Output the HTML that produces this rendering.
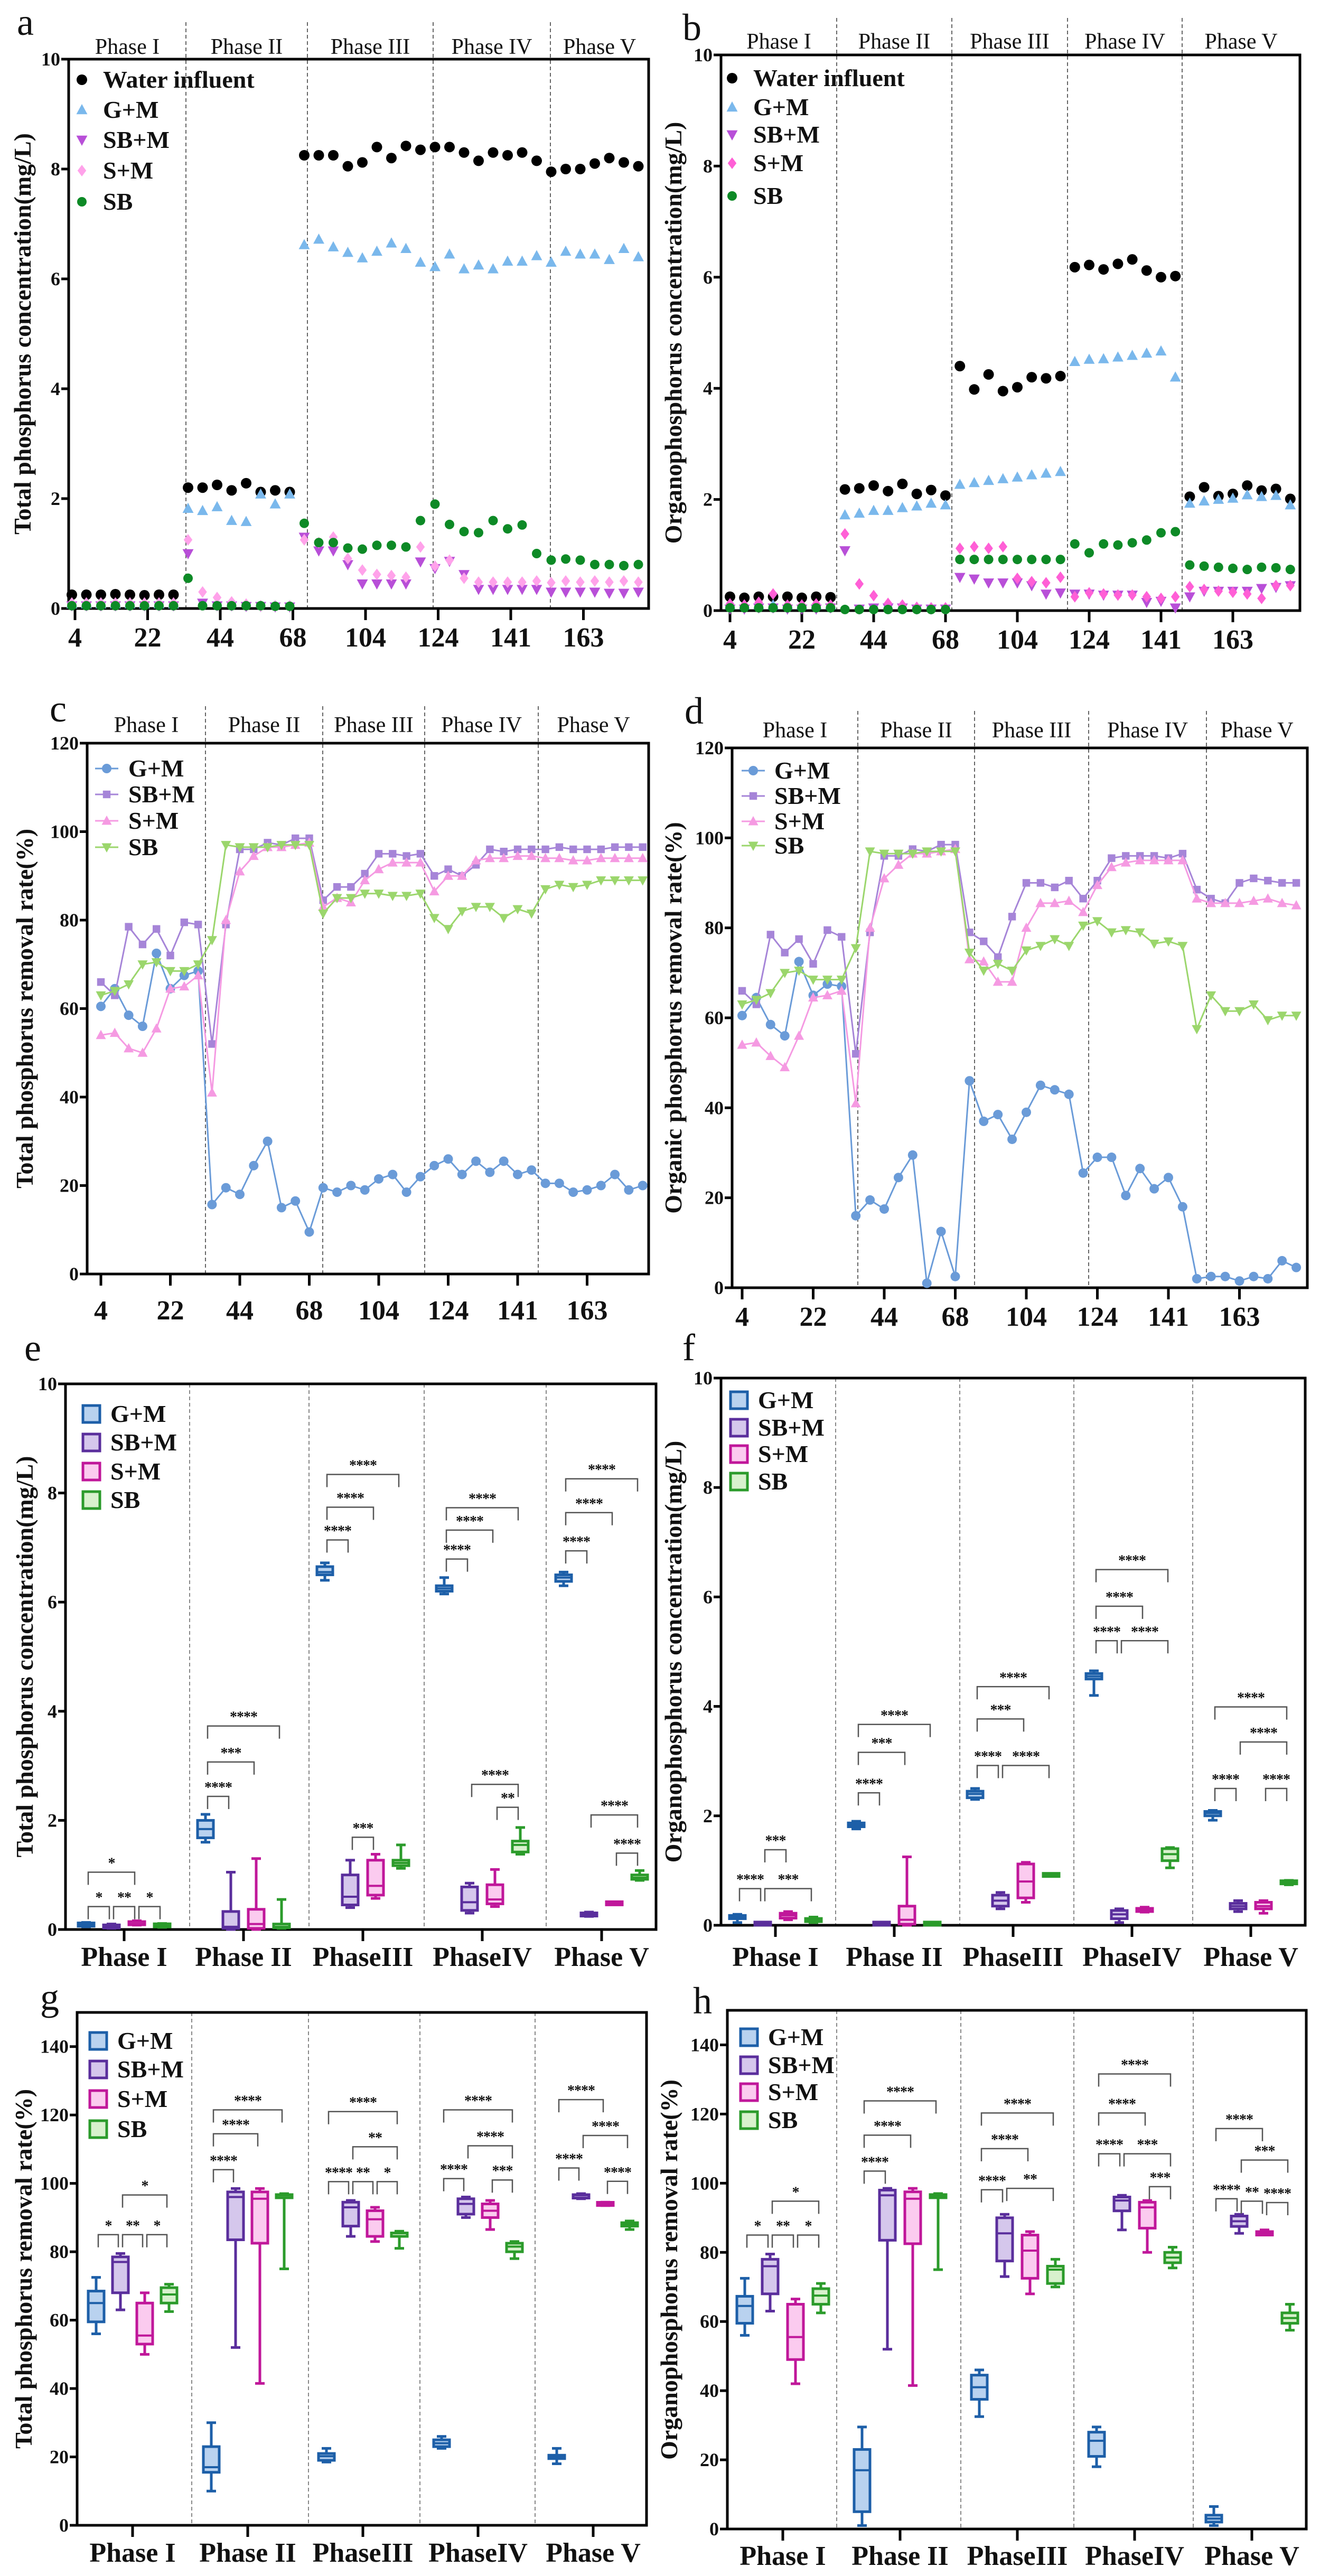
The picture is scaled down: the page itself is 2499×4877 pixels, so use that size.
<!DOCTYPE html>
<html><head><meta charset="utf-8">
<style>
html,body{margin:0;padding:0;background:#fff;}
svg{display:block;font-family:"Liberation Serif","Times New Roman",serif;}
text{font-family:"Liberation Serif","Times New Roman",serif;}
</style></head>
<body>
<svg id="fig" xmlns="http://www.w3.org/2000/svg" width="2499" height="4877" viewBox="0 0 2499 4877"></svg>
<script>
// ---------- shared labels ----------
const DAY_TICKS = ['4','22','44','68','104','124','141','163'];
const PHASES = ['Phase I','Phase II','Phase III','Phase IV','Phase V'];
const BOX_PHASES = ['Phase I','Phase II','PhaseIII','PhaseIV','Phase V'];
const GROUPS = ['G+M','SB+M','S+M','SB'];
const SCATTER_NAMES = ['Water influent','G+M','SB+M','S+M','SB'];
const CONC_TICKS = [0,2,4,6,8,10];
const RATE_TICKS_C = [0,20,40,60,80,100,120];
const RATE_TICKS_G = [0,20,40,60,80,100,120,140];

// ---------- panel a : total phosphorus concentration ----------
const aWater = [0.25,0.25,0.25,0.26,0.25,0.24,0.25,0.25, 2.2,2.2,2.25,2.15,2.28,2.12,2.15,2.12, 8.25,8.25,8.25,8.05,8.12,8.4,8.2,8.42,8.35, 8.4,8.4,8.3,8.15,8.3,8.25,8.3,8.15, 7.95,8.0,8.0,8.1,8.2,8.12,8.05];
const aGM = [0.08,0.08,0.08,0.08,0.08,0.08,0.08,0.08, 1.82,1.78,1.85,1.6,1.58,2.08,1.9,2.08, 6.62,6.72,6.58,6.48,6.38,6.5,6.65,6.55,6.3, 6.22,6.45,6.18,6.25,6.18,6.32,6.32,6.42, 6.3,6.5,6.45,6.45,6.35,6.55,6.4];
const aSBM = [0.05,0.05,0.05,0.05,0.05,0.05,0.05,0.05, 1.0,0.1,0.05,0.05,0.04,0.04,0.03,0.03, 1.3,1.05,1.05,0.8,0.45,0.45,0.45,0.45,0.85, 0.73,0.86,0.62,0.35,0.35,0.35,0.35,0.35, 0.3,0.3,0.3,0.3,0.28,0.28,0.3];
const aSM = [0.1,0.1,0.1,0.1,0.1,0.1,0.1,0.1, 1.25,0.3,0.2,0.12,0.08,0.05,0.05,0.05, 1.25,1.2,1.3,0.91,0.7,0.62,0.6,0.57,1.12, 0.77,0.88,0.55,0.48,0.48,0.48,0.48,0.5, 0.47,0.5,0.48,0.5,0.48,0.5,0.48];
const aSB = [0.05,0.05,0.05,0.05,0.05,0.05,0.05,0.05, 0.55,0.05,0.05,0.05,0.05,0.05,0.04,0.04, 1.55,1.2,1.2,1.1,1.08,1.15,1.15,1.12,1.6, 1.9,1.53,1.4,1.38,1.6,1.45,1.52,1.0, 0.88,0.9,0.88,0.8,0.8,0.78,0.8];

// ---------- panel b : organophosphorus concentration ----------
const bWater = [0.25,0.23,0.25,0.25,0.25,0.23,0.25,0.24, 2.18,2.2,2.25,2.15,2.28,2.1,2.17,2.07, 4.4,3.98,4.25,3.95,4.02,4.2,4.18,4.22, 6.18,6.22,6.14,6.24,6.32,6.12,6.0,6.02, 2.05,2.22,2.06,2.1,2.25,2.16,2.19,2.01];
const bGM = [0.1,0.1,0.1,0.1,0.1,0.1,0.1,0.1, 1.72,1.75,1.8,1.8,1.85,1.88,1.93,1.9, 2.27,2.3,2.34,2.37,2.4,2.44,2.47,2.5, 4.48,4.52,4.53,4.56,4.59,4.63,4.67,4.2, 1.93,1.97,2.0,2.02,2.08,2.05,2.07,1.9];
const bSBM = [0.03,0.03,0.05,0.05,0.03,0.03,0.03,0.05, 1.08,0.03,0.05,0.05,0.05,0.03,0.03,0.03, 0.6,0.57,0.5,0.5,0.5,0.45,0.3,0.32, 0.3,0.3,0.28,0.28,0.28,0.15,0.17,0.05, 0.25,0.35,0.35,0.35,0.35,0.4,0.42,0.45];
const bSM = [0.12,0.1,0.15,0.3,0.1,0.1,0.12,0.1, 1.38,0.48,0.27,0.13,0.1,0.06,0.05,0.05, 1.12,1.15,1.12,1.15,0.58,0.52,0.5,0.6, 0.25,0.32,0.3,0.28,0.28,0.25,0.22,0.25, 0.43,0.38,0.35,0.33,0.3,0.22,0.45,0.45];
const bSB = [0.05,0.05,0.05,0.05,0.05,0.05,0.05,0.05, 0.02,0.02,0.02,0.02,0.02,0.02,0.02,0.02, 0.92,0.92,0.92,0.92,0.92,0.92,0.92,0.92, 1.2,1.04,1.2,1.18,1.22,1.27,1.4,1.42, 0.82,0.8,0.78,0.76,0.74,0.78,0.77,0.74];

// ---------- panel c : TP removal rate ----------
const cGM = [60.5,64.5,58.5,56,72.5,64.5,67.5,68.5, 15.7,19.5,18,24.5,30,15,16.5,9.5, 19.5,18.5,20,19,21.5,22.5,18.5,22, 24.5,26,22.5,25.5,23,25.5,22.5,23.5, 20.5,20.5,18.5,19,20,22.5,19,20];
const cSBM = [66,63,78.5,74.5,78,72,79.5,79, 52,79,96,96,97.5,97,98.5,98.5, 84.5,87.5,87.5,90.5,95,95,94.5,95, 90,91.5,90,92.5,96,95.5,96,96, 96,96.5,96,96,96,96.5,96.5,96.5];
const cSM = [54,54.5,51,50,55.5,64.5,65,67.5, 41,80,91,94.5,96.5,96.5,97,97.5, 83,85,84,89,91.5,93,93,93, 86.5,90,90,93.5,94,94,94.5,94.5, 94,94,93.5,93.5,94,94,94,94];
const cSB = [63,64,65.5,70,70.5,68.5,68.5,70, 75.5,97,96.5,96.5,96.5,97,97,97, 81.5,85,85,86,86,85.5,85.5,86, 80.5,78,82,83,83,80.5,82.5,81.5, 87,88,87.5,88,89,89,89,89];

// ---------- panel d : organic P removal rate ----------
const dGM = [60.5,64.5,58.5,56,72.5,65,67.5,67, 16,19.5,17.5,24.5,29.5,1,12.5,2.5, 46,37,38.5,33,39,45,44,43, 25.5,29,29,20.5,26.5,22,24.5,18, 2,2.5,2.5,1.5,2.5,2,6,4.5];
const dSBM = [66,63,78.5,74.5,77.5,72,79.5,78, 52,79,96,96,97.5,97,98.5,98.5, 79,77,73.5,82.5,90,90,89,90.5, 86.5,90.5,95.5,96,96,96,95.5,96.5, 88.5,86.5,85.5,90,91,90.5,90,90];
const dSM = [54,54.5,51.5,49,56,64.5,65,66, 41,80,91,94,96.5,96.5,97,97.5, 73,72.5,68,68,80,85.5,85.5,86, 83.5,89.5,93.5,94.5,95,95,95,95, 86.5,85.5,85.5,85.5,86,86.5,85.5,85];
const dSB = [63,64,65.5,70,70.5,68.5,68.5,68.5, 75.5,97,96.5,96.5,96.5,97,97,97, 74.5,70.5,72,70.5,75,76,77.5,76, 80.5,81.5,79,79.5,79,76.5,77,76, 57.5,65,61.5,61.5,63,59.5,60.5,60.5];

// ---------- box panels: each entry [min,q1,median,q3,max] per phase ----------
const eGM = [[0.05,0.06,0.08,0.12,0.13],[1.6,1.68,1.84,2.0,2.11],[6.4,6.5,6.55,6.65,6.72],[6.15,6.2,6.25,6.3,6.45],[6.3,6.38,6.45,6.5,6.55]];
const eSBM = [[0.02,0.03,0.05,0.08,0.1],[0,0.02,0.05,0.33,1.05],[0.4,0.45,0.6,1.0,1.27],[0.3,0.35,0.5,0.78,0.85],[0.24,0.25,0.28,0.3,0.32]];
const eSM = [[0.08,0.09,0.1,0.14,0.16],[0,0.02,0.1,0.37,1.3],[0.57,0.63,0.8,1.27,1.38],[0.42,0.47,0.55,0.82,1.1],[0.46,0.47,0.48,0.49,0.5]];
const eSB = [[0.04,0.05,0.07,0.1,0.11],[0.02,0.03,0.05,0.1,0.55],[1.12,1.17,1.22,1.27,1.55],[1.38,1.42,1.55,1.62,1.87],[0.9,0.92,0.95,1.0,1.08]];
const eSig = [[0,0,1,0.42,'*'],[0,1,2,0.42,'**'],[0,2,3,0.42,'*'],[0,0,2,1.05,'*'],
 [1,0,1,2.44,'****'],[1,0,2,3.07,'***'],[1,0,3,3.73,'****'],
 [2,1,2,1.69,'***'],[2,0,1,7.14,'****'],[2,0,2,7.74,'****'],[2,0,3,8.34,'****'],
 [3,0,1,6.79,'****'],[3,0,2,7.32,'****'],[3,0,3,7.73,'****'],[3,2,3,2.24,'**'],[3,1,3,2.66,'****'],
 [4,0,1,6.94,'****'],[4,0,2,7.64,'****'],[4,0,3,8.26,'****'],[4,2,3,1.4,'****'],[4,1,3,2.1,'****']];

const fGM = [[0.05,0.12,0.15,0.18,0.2],[1.76,1.8,1.83,1.87,1.9],[2.3,2.33,2.4,2.45,2.5],[4.2,4.5,4.55,4.6,4.65],[1.92,2.0,2.05,2.08,2.1]];
const fSBM = [[0.01,0.02,0.03,0.04,0.05],[0.01,0.02,0.03,0.04,0.05],[0.3,0.35,0.45,0.55,0.6],[0.05,0.12,0.2,0.27,0.3],[0.25,0.3,0.35,0.4,0.45]];
const fSM = [[0.1,0.13,0.18,0.22,0.25],[0,0.02,0.1,0.35,1.25],[0.42,0.5,0.8,1.12,1.15],[0.24,0.26,0.28,0.3,0.33],[0.22,0.3,0.35,0.42,0.45]];
const fSB = [[0.05,0.07,0.1,0.12,0.15],[0.01,0.02,0.03,0.04,0.05],[0.9,0.91,0.92,0.93,0.94],[1.05,1.18,1.3,1.4,1.42],[0.74,0.77,0.78,0.8,0.82]];
const fSig = [[0,0,1,0.67,'****'],[0,1,3,0.67,'***'],[0,1,2,1.38,'***'],
 [1,0,1,2.42,'****'],[1,0,2,3.16,'***'],[1,0,3,3.67,'****'],
 [2,0,1,2.92,'****'],[2,1,3,2.92,'****'],[2,0,2,3.77,'***'],[2,0,3,4.36,'****'],
 [3,0,1,5.2,'****'],[3,1,3,5.2,'****'],[3,0,2,5.83,'****'],[3,0,3,6.5,'****'],
 [4,0,1,2.5,'****'],[4,2,3,2.5,'****'],[4,1,3,3.35,'****'],[4,0,3,3.99,'****']];

const gGM = [[56,59.5,65,68.5,72.5],[10,15.5,17,23,30],[18.5,19,20.2,21,22.5],[22.5,23,24,25,26],[18,19.5,20,20.5,22.5]];
const gSBM = [[63,68,77,78.5,79.5],[52,83.5,96,97.5,98.5],[84.5,87.5,93,94.5,95],[90,91,94,95.5,96],[95.5,95.7,96.5,96.7,97]];
const gSM = [[50,53,55.5,65,68],[41.5,82.5,95.5,97.5,98.5],[83,84.5,89.5,92,93],[86.5,90,92,94,95],[93.5,93.7,94,94.3,94.5]];
const gSB = [[62.5,65,67.5,69.5,70.5],[75,96,96.5,96.5,97],[81,84.5,85.5,85.5,86],[78,80,81.5,82.5,83],[86.5,87.5,88,88.5,89]];
const gSig = [[0,0,1,85,'*'],[0,1,2,85,'**'],[0,2,3,85,'*'],[0,1,3,96.6,'*'],
 [1,0,1,104,'****'],[1,0,2,114.5,'****'],[1,0,3,121.5,'****'],
 [2,0,1,100.5,'****'],[2,1,2,100.5,'**'],[2,2,3,100.5,'*'],[2,1,3,110.7,'**'],[2,0,3,121,'****'],
 [3,0,1,101.4,'****'],[3,2,3,101,'***'],[3,1,3,111,'****'],[3,0,3,121.5,'****'],
 [4,0,1,104.5,'****'],[4,2,3,100.6,'****'],[4,1,3,114,'****'],[4,0,2,124.5,'****']];

const hGM = [[56,59.5,64.5,67.3,72.5],[1,5,17,23,29.5],[32.5,37.5,41,44.5,46],[18,21,25.5,28,29.5],[1,2,3,4,6.5]];
const hSBM = [[63,68,76,78,79.5],[52,83.5,96.5,98,98.5],[73,77.5,85.5,90,91],[86.5,92,95,96,96.5],[85.5,87.5,89,90.5,91]];
const hSM = [[42,49,55.5,65,66.5],[41.5,82.5,95.5,97.5,98.5],[68,72.5,80.5,85,86],[80,87,93,94.5,95],[85,85,85.5,86,86.5]];
const hSB = [[62.5,65,67.5,69.5,71],[75,96,96.2,96.5,97],[70,71,75,76,78],[75.5,77,78.5,80,81.5],[57.5,59.5,61,62.5,65]];
const hSig = [[0,0,1,85,'*'],[0,1,2,85,'**'],[0,2,3,85,'*'],[0,1,3,94.8,'*'],
 [1,0,1,103.5,'****'],[1,0,2,113.9,'****'],[1,0,3,123.8,'****'],
 [2,0,1,98.1,'****'],[2,1,3,98.5,'**'],[2,0,2,110,'****'],[2,0,3,120.3,'****'],
 [3,0,1,108.5,'****'],[3,1,3,108.5,'***'],[3,2,3,99,'***'],[3,0,2,120.3,'****'],[3,0,3,131.6,'****'],
 [4,0,1,95.5,'****'],[4,1,2,94.8,'**'],[4,2,3,94.4,'****'],[4,1,3,106.7,'***'],[4,0,2,115.8,'****']];

// ---------- drawing helpers ----------
const NS = 'http://www.w3.org/2000/svg';
const svg = document.getElementById('fig');
const SERIF = '"Liberation Serif", "Times New Roman", serif';
function mk(tag, attrs, parent){
  const e = document.createElementNS(NS, tag);
  for (const k in attrs) e.setAttribute(k, attrs[k]);
  (parent || svg).appendChild(e);
  return e;
}
function txt(parent, x, y, s, size, extra){
  const t = mk('text', Object.assign({x:x, y:y, 'font-size':size, fill:'#111', 'font-family':SERIF}, extra||{}), parent);
  t.textContent = s;
  return t;
}
function marker(parent, shape, x, y, s, color){
  let e;
  if (shape === 'circle') e = mk('circle', {cx:x, cy:y, r:s, fill:color}, parent);
  else if (shape === 'up') e = mk('polygon', {points:`${x},${y-s} ${x-s*0.95},${y+s*0.75} ${x+s*0.95},${y+s*0.75}`, fill:color}, parent);
  else if (shape === 'down') e = mk('polygon', {points:`${x},${y+s} ${x-s*0.95},${y-s*0.75} ${x+s*0.95},${y-s*0.75}`, fill:color}, parent);
  else if (shape === 'diamond') e = mk('polygon', {points:`${x},${y-s} ${x-s*0.75},${y} ${x},${y+s} ${x+s*0.75},${y}`, fill:color}, parent);
  else e = mk('rect', {x:x-s*0.8, y:y-s*0.8, width:s*1.6, height:s*1.6, fill:color}, parent);
  return e;
}

// ---------- time-series panel ----------
function seriesPanel(P, data, yTicks, yMax){
  const g = mk('g', {});
  
  
  const xs = i => P.px0 + i * P.step;
  const ys = v => P.y0 - v / yMax * (P.y0 - P.yTop);

  const lt = txt(g, P.letter[0], P.letter[1], P.letterText, 72, {});
  
  

  const bounds = [P.left].concat(P.div).concat([P.right]);
  P.div.forEach(d => {
    const l = mk('line', {x1:d, x2:d, y1:P.yTop-70, y2:P.y0, stroke:'#666', 'stroke-width':2, 'stroke-dasharray':'7,5'}, g);
    
    
  });
  PHASES.forEach((p, k) => {
    const t = txt(g, (bounds[k]+bounds[k+1])/2, P.phaseY, p, 42, {'text-anchor':'middle'});
    
    
  });
  const fr = mk('rect', {x:P.left, y:P.yTop, width:P.right-P.left, height:P.y0-P.yTop, fill:'none', stroke:'#000', 'stroke-width':5}, g);
  
  
  yTicks.forEach(v => {
    const tk = mk('line', {x1:P.left-14, x2:P.left, y1:ys(v), y2:ys(v), stroke:'#000', 'stroke-width':5}, g);
    
    
    const tl = txt(g, P.left-16, ys(v)+12, String(v), 36, {'text-anchor':'end', 'font-weight':'bold'});
    
    
  });
  DAY_TICKS.forEach((s, k) => {
    const x = xs(k*5) + P.tickOff;
    const tk = mk('line', {x1:x, x2:x, y1:P.y0, y2:P.y0+22, stroke:'#000', 'stroke-width':5}, g);
    
    
    const tl = txt(g, x, P.xLabY, s, 52, {'text-anchor':'middle', 'font-weight':'bold'});
    
    
  });
  const yt = txt(g, 0, 0, P.yTitle, 46, {'text-anchor':'middle', 'font-weight':'bold', transform:`translate(${P.titleX},${(P.yTop+P.y0)/2}) rotate(-90)`});
  
  

  data.forEach((S, si) => {
    const sg = mk('g', {}, g);
    
    
    if (P.lines) {
      const pl = mk('polyline', {points:S.vals.map((v,i)=>xs(i)+','+ys(v)).join(' '), fill:'none', stroke:S.color, 'stroke-width':3}, sg);
      
      
    }
    S.vals.forEach((v, i) => {
      const m = marker(sg, S.shape, xs(i), ys(v), S.size, S.color);
      
      
    });
    const ly = P.legRows[si];
    const lg = mk('g', {}, g);
    
    
    if (P.lines) {
      const ll = mk('line', {x1:P.legX-22, x2:P.legX+22, y1:ly, y2:ly, stroke:S.color, 'stroke-width':3}, lg);
      
      
    }
    const lm = marker(lg, S.shape, P.legX, ly, S.size, S.color);
    
    
    const lt2 = txt(lg, P.legTextX, ly+15, S.label, 46, {'font-weight':'bold'});
    
    
  });
}

// ---------- box panel ----------
const BOX_STROKE = ['#1d5fa8','#5a2e9c','#c0179a','#2b9b2b'];
const BOX_FILL = ['#b9d2ef','#d5c7ec','#fbcbef','#d8f1cd'];
function boxPanel(P, boxes, sig, yTicks, yMax){
  const g = mk('g', {});
  
  
  const ys = v => P.y0 - v / yMax * (P.y0 - P.yTop);
  const xs = (p, k) => P.c0 + p * P.pstep + (k - 1.5) * P.gstep;

  const lt = txt(g, P.letter[0], P.letter[1], P.letterText, 72, {});
  
  
  P.div.forEach(d => {
    const l = mk('line', {x1:d, x2:d, y1:P.yTop, y2:P.y0, stroke:'#888', 'stroke-width':2, 'stroke-dasharray':'7,5'}, g);
    
    
  });
  const fr = mk('rect', {x:P.left, y:P.yTop, width:P.right-P.left, height:P.y0-P.yTop, fill:'none', stroke:'#000', 'stroke-width':5}, g);
  
  
  yTicks.forEach(v => {
    const tk = mk('line', {x1:P.left-14, x2:P.left, y1:ys(v), y2:ys(v), stroke:'#000', 'stroke-width':5}, g);
    
    
    const tl = txt(g, P.left-16, ys(v)+12, String(v), 36, {'text-anchor':'end', 'font-weight':'bold'});
    
    
  });
  BOX_PHASES.forEach((s, p) => {
    const x = P.c0 + p * P.pstep;
    const tk = mk('line', {x1:x, x2:x, y1:P.y0, y2:P.y0+22, stroke:'#000', 'stroke-width':5}, g);
    
    
    const tl = txt(g, x, P.xLabY, s, 52, {'text-anchor':'middle', 'font-weight':'bold'});
    
    
  });
  const yt = txt(g, 0, 0, P.yTitle, 46, {'text-anchor':'middle', 'font-weight':'bold', transform:`translate(${P.titleX},${(P.yTop+P.y0)/2}) rotate(-90)`});
  
  

  boxes.forEach((ser, k) => {
    ser.forEach((b, p) => {
      const x = xs(p, k), w = 30;
      const bg = mk('g', {}, g);
      
      
      const wl = mk('line', {x1:x, x2:x, y1:ys(b[0]), y2:ys(b[4]), stroke:BOX_STROKE[k], 'stroke-width':5}, bg);
      
      
      [b[0], b[4]].forEach(v => {
        const c = mk('line', {x1:x-9, x2:x+9, y1:ys(v), y2:ys(v), stroke:BOX_STROKE[k], 'stroke-width':5}, bg);
        
        
      });
      const raw = ys(b[1]) - ys(b[3]);
      const h = Math.max(raw, 6);
      const r = mk('rect', {x:x-w/2, y:ys(b[3]) - (h-raw)/2, width:w, height:h, fill:BOX_FILL[k], stroke:BOX_STROKE[k], 'stroke-width':5}, bg);
      
      
      const md = mk('line', {x1:x-w/2, x2:x+w/2, y1:ys(b[2]), y2:ys(b[2]), stroke:BOX_STROKE[k], 'stroke-width':4}, bg);
      
      
    });
  });
  sig.forEach(s => {
    const x1 = xs(s[0], s[1]) + 4, x2 = xs(s[0], s[2]) - 4, y = ys(s[3]);
    const br = mk('path', {d:`M${x1},${y+24} V${y} H${x2} V${y+24}`, fill:'none', stroke:'#555', 'stroke-width':2.5}, g);
    
    
    const st = txt(g, (x1+x2)/2, y-8, s[4], 28, {'text-anchor':'middle', 'font-weight':'bold', 'letter-spacing':'-1'});
    
    
  });
  GROUPS.forEach((name, k) => {
    const lg = mk('g', {}, g);
    
    
    const sq = mk('rect', {x:P.legX, y:P.legRows[k]-16, width:32, height:32, fill:BOX_FILL[k], stroke:BOX_STROKE[k], 'stroke-width':5}, lg);
    
    
    const t = txt(lg, P.legX+52, P.legRows[k]+15, name, 46, {'font-weight':'bold'});
    
    
  });
}

// ---------- build ----------
const scatterStyleA = [
  {key:'water', label:SCATTER_NAMES[0], shape:'circle', size:10, color:'#000'},
  {key:'gm', label:SCATTER_NAMES[1], shape:'up', size:11, color:'#7ab8ec'},
  {key:'sbm', label:SCATTER_NAMES[2], shape:'down', size:11, color:'#b84fd8'},
  {key:'sm', label:SCATTER_NAMES[3], shape:'diamond', size:11, color:'#ffa2ea'},
  {key:'sb', label:SCATTER_NAMES[4], shape:'circle', size:9, color:'#0d8a26'}];
const aVals = [aWater, aGM, aSBM, aSM, aSB];
const bVals = [bWater, bGM, bSBM, bSM, bSB];
seriesPanel({name:'panel-a', letterText:'a', letter:[32,66], left:130, right:1228, yTop:112, y0:1152, px0:136, step:27.5, tickOff:6,
  div:[352,582,820,1042], phaseY:102, xLabY:1224, titleX:58, yTitle:'Total phosphorus concentration(mg/L)',
  legX:155, legTextX:195, legRows:[151,208,265,323,382]},
  scatterStyleA.map((s,i)=>Object.assign({}, s, {vals:aVals[i]})), CONC_TICKS, 10);
seriesPanel({name:'panel-b', letterText:'b', letter:[1292,76], left:1365, right:2461, yTop:104, y0:1156, px0:1382, step:27.2, tickOff:0,
  div:[1584,1802,2021,2238], phaseY:92, xLabY:1228, titleX:1290, yTitle:'Organophosphorus concentration(mg/L)',
  legX:1386, legTextX:1426, legRows:[148,203,255,309,371]},
  scatterStyleA.map((s,i)=>Object.assign({}, s, {vals:bVals[i], color: i===3 ? '#ff5fd6' : s.color})), CONC_TICKS, 10);

const lineStyle = [
  {key:'gm', label:'G+M', shape:'circle', size:9, color:'#6a9bd8'},
  {key:'sbm', label:'SB+M', shape:'square', size:9, color:'#a685d8'},
  {key:'sm', label:'S+M', shape:'up', size:10, color:'#f59ae2'},
  {key:'sb', label:'SB', shape:'down', size:10, color:'#9bd66c'}];
const cVals = [cGM, cSBM, cSM, cSB];
const dVals = [dGM, dSBM, dSM, dSB];
seriesPanel({name:'panel-c', letterText:'c', letter:[94,1366], left:165, right:1228, yTop:1407, y0:2412, px0:191, step:26.3, tickOff:0, lines:true,
  div:[389,611,804,1019], phaseY:1386, xLabY:2498, titleX:62, yTitle:'Total phosphorus removal rate(%)',
  legX:202, legTextX:243, legRows:[1455,1504,1554,1604]},
  lineStyle.map((s,i)=>Object.assign({}, s, {vals:cVals[i]})), RATE_TICKS_C, 120);
seriesPanel({name:'panel-d', letterText:'d', letter:[1296,1370], left:1386, right:2475, yTop:1416, y0:2438, px0:1405, step:26.9, tickOff:0, lines:true,
  div:[1624,1845,2061,2284], phaseY:1396, xLabY:2510, titleX:1290, yTitle:'Organic phosphorus removal rate(%)',
  legX:1426, legTextX:1466, legRows:[1459,1507,1555,1601]},
  lineStyle.map((s,i)=>Object.assign({}, s, {vals:dVals[i]})), RATE_TICKS_C, 120);

boxPanel({name:'panel-e', letterText:'e', letter:[46,2576], left:124, right:1242, yTop:2620, y0:3653, c0:235, pstep:226, gstep:48,
  div:[359,585,803,1034], xLabY:3722, titleX:62, yTitle:'Total phosphorus concentration(mg/L)', legX:157, legRows:[2677,2731,2786,2840]},
  [eGM,eSBM,eSM,eSB], eSig, CONC_TICKS, 10);
boxPanel({name:'panel-f', letterText:'f', letter:[1292,2575], left:1365, right:2471, yTop:2609, y0:3645, c0:1468, pstep:225, gstep:48,
  div:[1582,1817,2033,2258], xLabY:3722, titleX:1290, yTitle:'Organophosphorus concentration(mg/L)', legX:1383, legRows:[2651,2703,2753,2805]},
  [fGM,fSBM,fSM,fSB], fSig, CONC_TICKS, 10);
boxPanel({name:'panel-g', letterText:'g', letter:[76,3805], left:146, right:1224, yTop:3810, y0:4781, c0:251, pstep:218, gstep:46,
  div:[363,584,795,1013], xLabY:4850, titleX:60, yTitle:'Total phosphorus removal rate(%)', legX:170, legRows:[3864,3918,3974,4031]},
  [gGM,gSBM,gSM,gSB], gSig, RATE_TICKS_G, 150);
boxPanel({name:'panel-h', letterText:'h', letter:[1312,3812], left:1377, right:2473, yTop:3806, y0:4788, c0:1482, pstep:222, gstep:48,
  div:[1584,1819,2033,2259], xLabY:4856, titleX:1282, yTitle:'Organophosphorus removal rate(%)', legX:1402, legRows:[3857,3910,3961,4014]},
  [hGM,hSBM,hSM,hSB], hSig, RATE_TICKS_G, 150);
</script>
</body></html>
